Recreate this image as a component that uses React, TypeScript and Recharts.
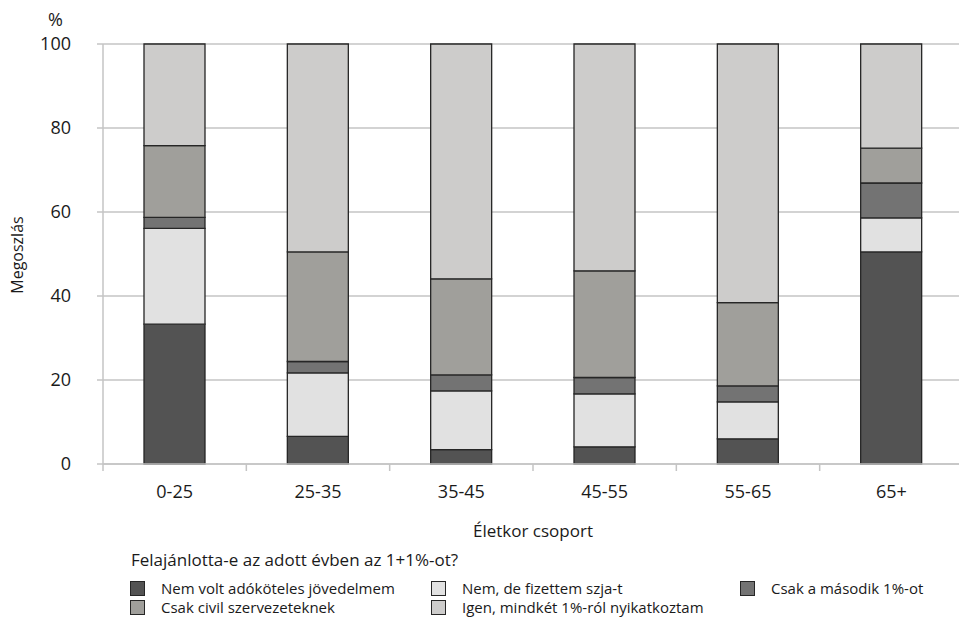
import React from "react";
import { BarChart, Bar, XAxis, YAxis, CartesianGrid } from "recharts";

const categories = ["0-25", "25-35", "35-45", "45-55", "55-65", "65+"];

const nemVolt = [33.3, 6.6, 3.4, 4.1, 6.0, 50.5];
const nemDeFizettem = [22.8, 15.1, 14.0, 12.6, 8.8, 8.1];
const csakMasodik = [2.6, 2.7, 3.8, 3.9, 3.8, 8.3];
const csakCivil = [17.1, 26.1, 22.9, 25.4, 19.8, 8.3];
const igenMindket = [24.2, 49.5, 55.9, 54.0, 61.6, 24.8];

const yTicks = [0, 20, 40, 60, 80, 100];

const series = [
  { key: "nemVolt", name: "Nem volt adóköteles jövedelmem", color: "#535353", values: nemVolt },
  { key: "nemDeFizettem", name: "Nem, de fizettem szja-t", color: "#e1e1e1", values: nemDeFizettem },
  { key: "csakMasodik", name: "Csak a második 1%-ot", color: "#737373", values: csakMasodik },
  { key: "csakCivil", name: "Csak civil szervezeteknek", color: "#a09f9b", values: csakCivil },
  { key: "igenMindket", name: "Igen, mindkét 1%-ról nyikatkoztam", color: "#cdcccb", values: igenMindket },
];

const data = categories.map((c, i) => {
  const row: Record<string, string | number> = { group: c };
  series.forEach((s) => {
    row[s.key] = s.values[i];
  });
  return row;
});

// legend order as in the picture: two rows, three columns
const legendRows = [
  [series[0], series[1], series[2]],
  [series[3], series[4]],
];
const legendCols = [130, 431, 740];

const FONT = "'Open Sans', 'Noto Sans', sans-serif";
const GRID = "#c4c4c4";
const LABEL_GAP = 21;

// category label plus small tick marks on the band boundaries
function CategoryTick(props: any) {
  const { x, y, payload, index } = props;
  const half = payload?.offset ?? 0;
  const axisY = y - LABEL_GAP;
  const last = index === categories.length - 1;
  return (
    <g>
      <line x1={x - half} x2={x - half} y1={axisY} y2={axisY + 7} stroke={GRID} strokeWidth={1.5} />
      {last && (
        <line x1={x + half} x2={x + half} y1={axisY} y2={axisY + 7} stroke={GRID} strokeWidth={1.5} />
      )}
      <text x={x} y={y} dy="0.71em" textAnchor="middle" fill="#1a1a1a" fontSize={18} fontFamily={FONT}>
        {payload.value}
      </text>
    </g>
  );
}

export default function App() {
  return (
    <div
      style={{
        position: "absolute",
        left: 0,
        top: 0,
        width: 959,
        height: 621,
        overflow: "hidden",
        background: "#fff",
        fontFamily: FONT,
        color: "#1a1a1a",
      }}
    >
      <BarChart
        width={975}
        height={621}
        data={data}
        margin={{ top: 44, right: 12, left: 0, bottom: 127 }}
      >
        <CartesianGrid vertical={false} stroke={GRID} strokeWidth={1.5} />
        <XAxis
          dataKey="group"
          tickLine={false}
          tickSize={0}
          tickMargin={LABEL_GAP}
          height={30}
          axisLine={{ stroke: GRID, strokeWidth: 1.5 }}
          tick={<CategoryTick />}
          interval={0}
        />
        <YAxis
          width={103}
          domain={[0, 100]}
          ticks={yTicks}
          tickSize={6}
          tickMargin={26}
          tickLine={{ stroke: GRID, strokeWidth: 1.5 }}
          axisLine={{ stroke: GRID, strokeWidth: 1.5 }}
          tick={{ fill: "#1a1a1a", fontSize: 18, fontFamily: FONT }}
        />
        {series.map((s) => (
          <Bar
            key={s.key}
            dataKey={s.key}
            name={s.name}
            stackId="a"
            fill={s.color}
            stroke="#262626"
            strokeWidth={1.3}
            barSize={61}
            isAnimationActive={false}
          />
        ))}
      </BarChart>

      <div style={{ position: "absolute", left: 48, top: 7, fontSize: 18, lineHeight: "24px" }}>%</div>
      <div
        style={{
          position: "absolute",
          left: 17,
          top: 255,
          fontSize: 16,
          whiteSpace: "nowrap",
          transform: "translate(-50%, -50%) rotate(-90deg)",
        }}
      >
        Megoszlás
      </div>
      <div
        style={{
          position: "absolute",
          left: 533,
          top: 530,
          fontSize: 17,
          whiteSpace: "nowrap",
          transform: "translate(-50%, -50%)",
        }}
      >
        Életkor csoport
      </div>
      <div
        style={{
          position: "absolute",
          left: 131,
          top: 548,
          fontSize: 17,
          lineHeight: "24px",
          whiteSpace: "nowrap",
        }}
      >
        Felajánlotta-e az adott évben az 1+1%-ot?
      </div>
      {legendRows.map((row, r) =>
        row.map((s, c) => (
          <div
            key={s.key}
            style={{
              position: "absolute",
              left: legendCols[c],
              top: 578 + r * 19,
              height: 20,
              display: "flex",
              alignItems: "center",
              fontSize: 15,
              whiteSpace: "nowrap",
            }}
          >
            <span
              style={{
                display: "inline-block",
                width: 13,
                height: 13,
                background: s.color,
                border: "1.5px solid #262626",
                marginRight: 16,
              }}
            />
            {s.name}
          </div>
        ))
      )}
    </div>
  );
}
